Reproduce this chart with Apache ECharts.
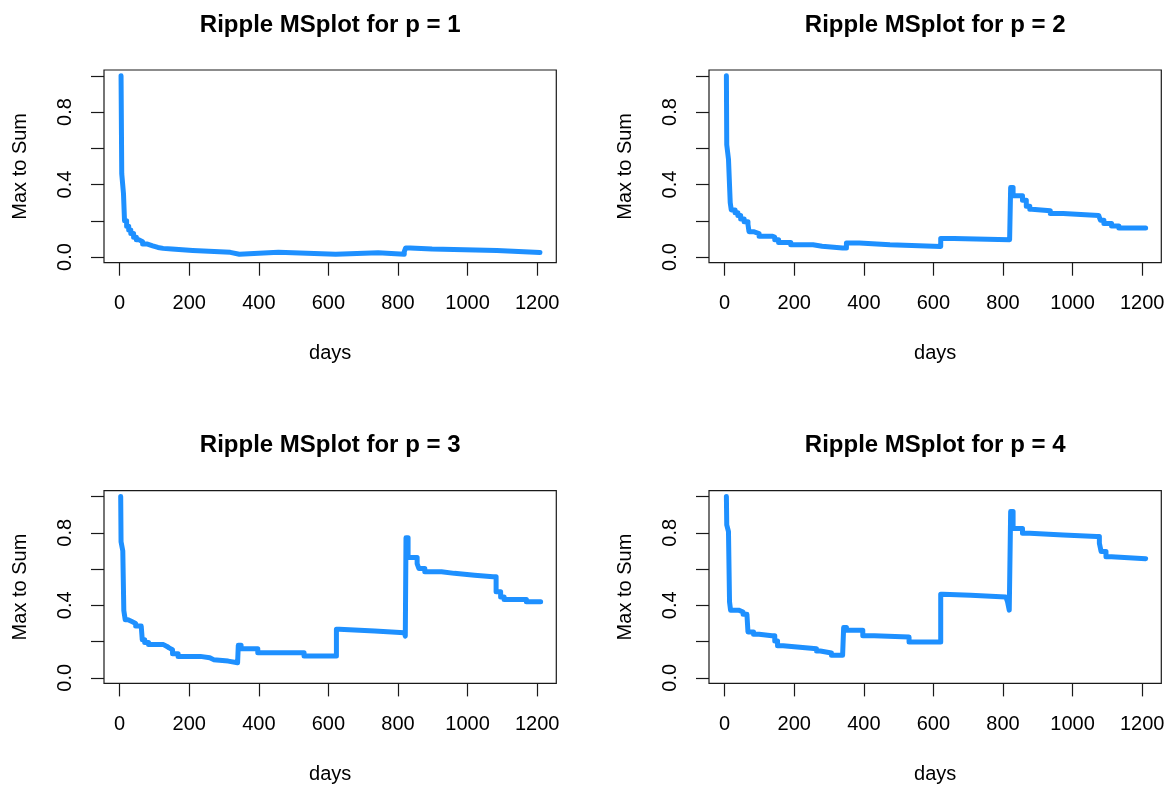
<!DOCTYPE html>
<html>
<head>
<meta charset="utf-8">
<script src="https://cdn.jsdelivr.net/npm/echarts@6/dist/echarts.min.js"></script>
<style>
html,body{margin:0;padding:0;background:#fff;}
#chart{width:1172px;height:787px;}
</style>
</head>
<body>
<div id="chart"></div>
<script>
// ---- data (day at which a level starts, level value) ----
const titles = ["Ripple MSplot for p = 1","Ripple MSplot for p = 2","Ripple MSplot for p = 3","Ripple MSplot for p = 4"];
const xTicks = [0,200,400,600,800,1000,1200];
const yTicks = [0,0.2,0.4,0.6,0.8,1.0];
const yLabels = [0,0.4,0.8];

const days1 = [4,6,11,14,20,26,32,40,48,56,66,80,95,110,125,150,210,318,344,456,621,743,818,822,835,898,1084,1208];
const vals1 = [1.00,0.46,0.35,0.20,0.17,0.15,0.13,0.11,0.095,0.085,0.072,0.062,0.053,0.048,0.044,0.036,0.026,0.016,0.026,0.016,0.024,0.015,0.03,0.05,0.044,0.036,0.025,0.025];

const days2 = [5,6,11,16,19,30,38,46,56,67,70,83,99,136,144,155,190,254,280,339,350,387,475,621,659,819,822,829,856,867,877,883,936,973,1075,1080,1090,1112,1133,1210];
const vals2 = [1.00,0.62,0.54,0.30,0.26,0.245,0.23,0.21,0.195,0.18,0.14,0.13,0.115,0.11,0.096,0.08,0.068,0.06,0.05,0.05,0.078,0.068,0.059,0.103,0.096,0.096,0.384,0.338,0.314,0.28,0.264,0.255,0.24,0.23,0.23,0.203,0.185,0.172,0.16,0.16];

const days3 = [3,4,9,12,16,24,35,46,62,65,72,83,126,136,142,152,168,232,259,270,312,339,341,349,397,530,623,631,733,818,821,823,829,855,860,877,925,962,1020,1073,1082,1095,1105,1169,1210];
const vals3 = [1.00,0.75,0.70,0.37,0.32,0.31,0.30,0.285,0.285,0.21,0.195,0.183,0.173,0.165,0.155,0.133,0.118,0.111,0.10,0.092,0.083,0.083,0.179,0.16,0.138,0.12,0.268,0.258,0.249,0.249,0.23,0.773,0.664,0.63,0.603,0.585,0.576,0.566,0.557,0.557,0.474,0.446,0.432,0.419,0.419];

const days4 = [5,6,11,14,17,40,53,64,67,83,99,136,144,152,168,232,264,275,307,339,342,350,397,430,530,621,627,707,808,813,818,822,829,856,877,973,1069,1077,1082,1096,1112,1210];
const vals4 = [1.00,0.843,0.806,0.419,0.373,0.363,0.35,0.35,0.253,0.24,0.232,0.232,0.203,0.177,0.166,0.16,0.148,0.137,0.124,0.124,0.277,0.262,0.232,0.225,0.197,0.461,0.455,0.446,0.446,0.42,0.373,0.917,0.823,0.797,0.788,0.779,0.779,0.742,0.696,0.668,0.657,0.657];

const allDays = [days1,days2,days3,days4];
const allVals = [vals1,vals2,vals3,vals4];

// ---- layout ----
const boxes = [
  {left:104, top:70},
  {left:709, top:70},
  {left:104, top:490.7},
  {left:709, top:490.7}
];
const BW = 452.3, BH = 192.7;
const FONT = "'Liberation Sans', Arial, sans-serif";
const INK = '#1a1a1a';

const chart = echarts.init(document.getElementById('chart'), null, {renderer:'canvas'});

const option = {
  backgroundColor:'#ffffff',
  animation:false,
  title: boxes.map((b,i)=>({
    text: titles[i],
    left: b.left + BW/2,
    top: b.top - 57,
    textAlign:'center',
    padding:0,
    textStyle:{fontFamily:FONT, fontSize:24, fontWeight:'bold', color:'#000'}
  })),
  grid: boxes.map(b=>({
    left:b.left, top:b.top, width:BW, height:BH,
    show:true, borderColor:INK, borderWidth:1.2, backgroundColor:'transparent',
    containLabel:false
  })),
  xAxis: boxes.map((b,i)=>({
    type:'value', gridIndex:i, min:-45, max:1255, position:'bottom',
    name:'days', nameLocation:'middle', nameGap:81,
    nameTextStyle:{fontFamily:FONT, fontSize:20, color:'#000'},
    axisLine:{show:false, onZero:false},
    splitLine:{show:false},
    axisTick:{show:true, inside:false, length:13, customValues:xTicks, lineStyle:{color:INK, width:1.2}},
    axisLabel:{show:true, margin:31, customValues:xTicks, fontFamily:FONT, fontSize:20, color:'#000',
      formatter:(v)=>String(v)}
  })),
  yAxis: boxes.map((b,i)=>({
    type:'value', gridIndex:i, min:-0.031, max:1.032, position:'left',
    name:'Max to Sum', nameLocation:'middle', nameGap:74,
    nameTextStyle:{fontFamily:FONT, fontSize:20, color:'#000'},
    axisLine:{show:false, onZero:false},
    splitLine:{show:false},
    axisTick:{show:true, inside:false, length:13, customValues:yTicks, lineStyle:{color:INK, width:1.2}},
    axisLabel:{show:true, margin:29, rotate:90, customValues:yLabels, fontFamily:FONT, fontSize:20, color:'#000',
      formatter:(v)=>Number(v).toFixed(1)}
  })),
  series: allDays.map((d,i)=>({
    type:'line', xAxisIndex:i, yAxisIndex:i,
    step:'end', showSymbol:false, symbol:'none', silent:true,
    lineStyle:{color:'#1E90FF', width:5, cap:'round', join:'round'},
    data: d.map((x,k)=>[x, allVals[i][k]])
  }))
};
chart.setOption(option);
</script>
</body>
</html>
